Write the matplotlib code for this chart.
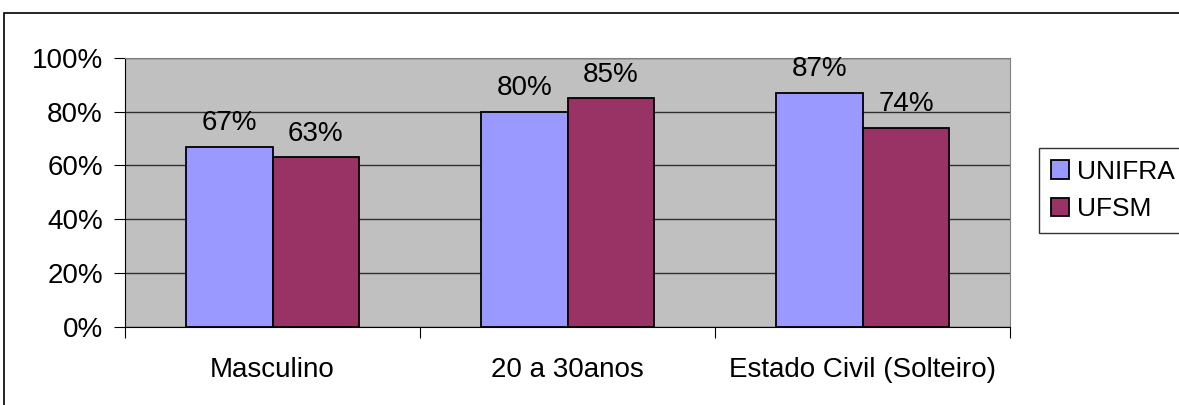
import numpy as np
import matplotlib.pyplot as plt
from matplotlib.patches import Rectangle

# -------------- data --------------
categories = ['Masculino', '20 a 30anos', 'Estado Civil (Solteiro)']
unifra = [0.67, 0.80, 0.87]
ufsm = [0.63, 0.85, 0.74]
series_names = ['UNIFRA', 'UFSM']

plt.rcParams['font.family'] = ['Liberation Sans', 'DejaVu Sans']
fs = 20

fig = plt.figure(figsize=(11.79, 4.05), dpi=100)
ax = fig.add_axes([0.106, 0.193, 0.751, 0.664])

# outer chart border (Excel style)
fig.patches.append(Rectangle((4 / 1179, -0.01), 1.0, 1 - 13 / 405 + 0.01,
                             transform=fig.transFigure, fill=False,
                             edgecolor='black', linewidth=1.2))

x = np.arange(len(categories))
w = 0.293
b1 = ax.bar(x - w / 2, unifra, w, color='#9999FF', edgecolor='black', linewidth=1.3,
            label=series_names[0], zorder=3)
b2 = ax.bar(x + w / 2, ufsm, w, color='#993366', edgecolor='black', linewidth=1.3,
            label=series_names[1], zorder=3)

# value labels above bars
for bars, vals in [(b1, unifra), (b2, ufsm)]:
    for r, v in zip(bars, vals):
        ax.annotate(f'{round(v * 100)}%', (r.get_x() + r.get_width() / 2, v),
                    xytext=(0, 7.5), textcoords='offset points',
                    ha='center', va='bottom', fontsize=fs)

ax.set_facecolor('#C0C0C0')
ax.set_xlim(-0.5, len(categories) - 0.5)
ax.set_ylim(0, 1.0)
ax.set_yticks(np.arange(0, 1.01, 0.2))
ax.set_yticklabels([f'{int(t * 100)}%' for t in np.arange(0, 1.01, 0.2)], fontsize=fs)
ax.yaxis.grid(True, color='#303030', linewidth=1.0, zorder=0)
ax.set_axisbelow(True)

# category ticks between groups, labels at centres
ax.set_xticks(np.arange(-0.5, len(categories), 1.0))
ax.set_xticklabels([])
ax.set_xticks(x, minor=True)
ax.set_xticklabels(categories, minor=True, fontsize=fs)
ax.tick_params(axis='x', which='minor', length=0, pad=22)
ax.tick_params(axis='x', which='major', length=8, direction='out')
ax.tick_params(axis='y', length=8, direction='out', pad=8)

for s in ['top', 'right']:
    ax.spines[s].set_color('#808080')
for s in ['left', 'bottom']:
    ax.spines[s].set_color('black')

leg = fig.legend(handles=[b1, b2], labels=series_names, loc='upper left',
                 bbox_to_anchor=(1039 / 1179, 1 - 148 / 405), fontsize=19,
                 frameon=True, fancybox=False, edgecolor='black',
                 handlelength=0.7, handleheight=0.7, handletextpad=0.3,
                 borderpad=0.45, labelspacing=0.5, borderaxespad=0)
leg.get_frame().set_linewidth(1.0)

fig.savefig('out.png', dpi=100)
